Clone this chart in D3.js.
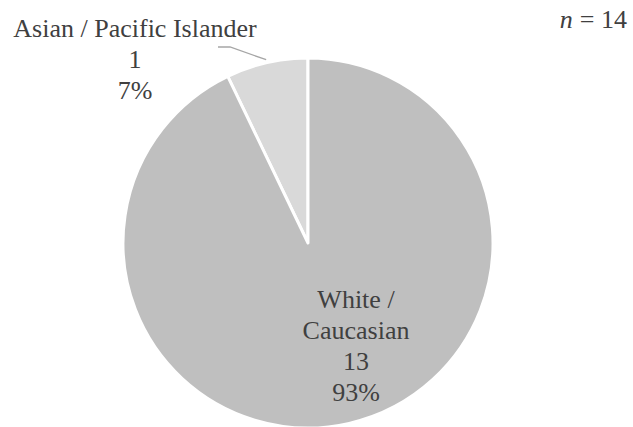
<!DOCTYPE html>
<html>
<head>
<meta charset="utf-8">
<script src="https://cdn.jsdelivr.net/npm/d3@7"></script>
</head>
<body style="margin:0">
<svg id="chart" width="633" height="427"></svg>
<script>
// Respondents by race / ethnicity
const categories = ["Asian / Pacific Islander", "White / Caucasian"];
const counts = [1, 13];
const colors = ["#d9d9d9", "#bfbfbf"];
const sampleSize = 14;

const FONT = '"Liberation Serif"';
const svg = d3.select("#chart");
const cx = 308, cy = 243, radius = 185;
const fontSize = 26, lineH = 31;

const total = d3.sum(counts);
const data = categories.map((c, i) => ({ name: c, value: counts[i], color: colors[i] }));

// First slice ends at 12 o'clock, the rest runs clockwise from there
const firstSpan = 2 * Math.PI * counts[0] / total;
const pie = d3.pie().value(d => d.value).sort(null)
  .startAngle(-firstSpan).endAngle(2 * Math.PI - firstSpan);
const arc = d3.arc().innerRadius(0).outerRadius(radius);
const arcs = pie(data);

const g = svg.append("g").attr("transform", `translate(${cx},${cy})`);

g.selectAll("path.slice")
  .data(arcs)
  .join("path")
  .attr("class", "slice")
  .attr("d", arc)
  .attr("fill", d => d.data.color)
  .attr("stroke", "#fff")
  .attr("stroke-width", 3)
  .attr("stroke-linejoin", "round");

const pct = v => Math.round(v / total * 100) + "%";

// Small slice: label outside with a leader line to its rim
const small = arcs[0];
const rimPoint = d3.arc().innerRadius(radius + 3).outerRadius(radius + 3).centroid(small);
svg.append("polyline")
  .attr("points", [[218, 47], [230, 47], [cx + rimPoint[0], cy + rimPoint[1]]].map(p => p.join(",")).join(" "))
  .attr("fill", "none")
  .attr("stroke", "#a6a6a6")
  .attr("stroke-width", 1.3);

function styleText(sel) {
  return sel
    .attr("font-family", FONT)
    .attr("font-size", fontSize)
    .attr("fill", "#404040")
    .style("font-family", FONT, "important");
}

// One text element per line of a multi-line label
function label(x, y, lines, gap) {
  svg.append("g")
    .selectAll("text")
    .data(lines)
    .join("text")
    .attr("x", x)
    .attr("y", (d, i) => y + i * gap)
    .attr("text-anchor", "middle")
    .call(styleText)
    .text(d => d);
}

label(135, 37, [small.data.name, String(small.data.value), pct(small.data.value)], 31);

// Large slice: label inside
const big = arcs[1];
label(356, 308, ["White /", "Caucasian", String(big.data.value), pct(big.data.value)], lineH);

// Sample size note: italic n, upright remainder
const rest = svg.append("text")
  .attr("x", 627).attr("y", 28)
  .attr("text-anchor", "end")
  .call(styleText)
  .text("= " + sampleSize);
const restW = rest.node().getComputedTextLength();
svg.append("text")
  .attr("x", 627 - restW - 7).attr("y", 28)
  .attr("text-anchor", "end")
  .call(styleText)
  .attr("font-style", "italic")
  .text("n");
</script>
</body>
</html>
